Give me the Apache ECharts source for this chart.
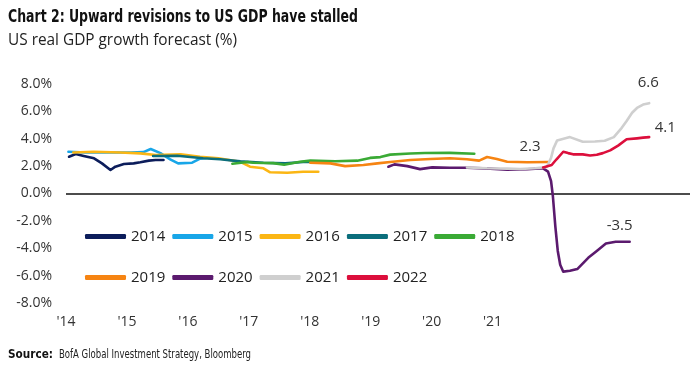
<!DOCTYPE html>
<html>
<head>
<meta charset="utf-8">
<script src="https://cdn.jsdelivr.net/npm/echarts@6/dist/echarts.min.js"></script>
<style>html,body{margin:0;padding:0;background:#fff}#c{width:700px;height:367px}</style>
</head>
<body>
<div id="c"></div>
<script>
// x = position on the year axis, y = forecast (%)
const s2014 = [[2014.05,2.69],[2014.16,2.88],[2014.29,2.74],[2014.46,2.57],[2014.59,2.2],[2014.73,1.72],[2014.81,1.96],[2014.95,2.15],[2015.11,2.2],[2015.22,2.28],[2015.36,2.4],[2015.47,2.45],[2015.60,2.45]];
const s2015 = [[2014.04,3.05],[2014.32,3.0],[2014.73,3.0],[2015.06,3.0],[2015.27,3.02],[2015.39,3.25],[2015.55,2.95],[2015.71,2.5],[2015.84,2.2],[2016.07,2.25],[2016.20,2.55],[2016.30,2.6]];
const s2016 = [[2014.12,3.0],[2014.45,3.05],[2014.89,3.0],[2015.22,2.93],[2015.47,2.81],[2015.88,2.86],[2016.20,2.69],[2016.50,2.57],[2016.86,2.32],[2017.02,1.96],[2017.24,1.84],[2017.35,1.55],[2017.63,1.52],[2017.89,1.59],[2018.14,1.59]];
const s2017 = [[2015.43,2.74],[2015.83,2.76],[2016.25,2.57],[2016.53,2.5],[2016.86,2.35],[2017.24,2.25],[2017.60,2.2],[2017.89,2.3],[2018.01,2.3]];
const s2018 = [[2016.73,2.17],[2016.98,2.3],[2017.07,2.25],[2017.40,2.22],[2017.58,2.1],[2017.84,2.32],[2018.01,2.4],[2018.42,2.36],[2018.78,2.4],[2018.99,2.6],[2019.16,2.66],[2019.32,2.84],[2019.65,2.92],[2019.89,2.96],[2020.30,2.97],[2020.70,2.9]];
const s2019 = [[2018.01,2.25],[2018.34,2.2],[2018.58,2.0],[2018.88,2.08],[2019.11,2.2],[2019.32,2.3],[2019.65,2.45],[2019.98,2.52],[2020.30,2.57],[2020.58,2.5],[2020.78,2.4],[2020.91,2.67],[2021.07,2.52],[2021.24,2.32],[2021.57,2.28],[2021.91,2.3]];
const s2020 = [[2019.29,1.96],[2019.39,2.13],[2019.60,2.0],[2019.81,1.78],[2020.01,1.91],[2020.30,1.88],[2020.58,1.88],[2020.96,1.82],[2021.24,1.74],[2021.57,1.77],[2021.83,1.84],[2021.91,1.6],[2021.96,0.9],[2021.99,-0.2],[2022.03,-2.4],[2022.07,-4.2],[2022.11,-5.2],[2022.16,-5.71],[2022.27,-5.65],[2022.39,-5.52],[2022.57,-4.7],[2022.71,-4.2],[2022.86,-3.65],[2023.02,-3.52],[2023.25,-3.52]];
const s2021 = [[2020.58,1.9],[2020.91,1.84],[2021.24,1.82],[2021.45,1.79],[2021.70,1.85],[2021.89,1.94],[2021.96,2.6],[2022.00,3.3],[2022.06,3.88],[2022.27,4.12],[2022.48,3.78],[2022.68,3.8],[2022.84,3.85],[2022.99,4.12],[2023.12,4.8],[2023.20,5.3],[2023.29,5.9],[2023.37,6.25],[2023.47,6.5],[2023.57,6.6]];
const s2022 = [[2021.83,1.9],[2021.97,2.08],[2022.05,2.5],[2022.16,3.05],[2022.24,2.95],[2022.32,2.86],[2022.48,2.86],[2022.60,2.78],[2022.71,2.83],[2022.81,2.95],[2022.93,3.15],[2023.06,3.5],[2023.20,3.96],[2023.37,4.03],[2023.47,4.08],[2023.57,4.12]];

const seriesNames = ['2014','2015','2016','2017','2018','2019','2020','2021','2022'];
const seriesData = [s2014,s2015,s2016,s2017,s2018,s2019,s2020,s2021,s2022];
const colors = ['#0c1d5b','#18a6e8','#fbb614','#0b6e7c','#3aaa35','#f68412','#5b1a6e','#cfcfcf','#dc0f3c'];
const yTicks = [-8,-6,-4,-2,0,2,4,6,8];
const xTickLabels = ["'14","'15","'16","'17","'18","'19","'20","'21"];
// end-value annotations: [series index, text, offset]
const notes = [[5,'2.3',[-18,-15]],[7,'6.6',[-1,-20]],[8,'4.1',[16,-9]],[6,'-3.5',[-10,-16]]];

const FONT = "'Open Sans', sans-serif";
const NARROW = "'Liberation Sans Narrow', 'DejaVu Sans Condensed', sans-serif";

const mctx = document.createElement('canvas').getContext('2d');
function fitScale(text, font, width){ mctx.font = font; return width / mctx.measureText(text).width; }

const TITLE = 'Chart 2: Upward revisions to US GDP have stalled';
const SUB = 'US real GDP growth forecast (%)';
const SRC_B = 'Source:';
const SRC = 'BofA Global Investment Strategy, Bloomberg';
const fTitle = "bold 18px "+NARROW, fSub = "16px "+FONT, fSrcB = "bold 12px "+NARROW, fSrc = "12px "+NARROW;

const series = seriesNames.map((n,i)=>{
  const s = {
    name:n, type:'line', data:seriesData[i], showSymbol:false, symbol:'none',
    lineStyle:{color:colors[i], width:2.6, cap:'round', join:'round'},
    itemStyle:{color:colors[i]}, z:2+i, animation:false
  };
  const ns = notes.filter(t=>t[0]===i);
  if (ns.length) {
    const last = seriesData[i][seriesData[i].length-1];
    s.markPoint = {
      symbol:'circle', symbolSize:1, itemStyle:{color:'rgba(0,0,0,0)'}, animation:false, silent:true,
      data: ns.map(t=>({coord:last, label:{show:true, position:'inside', offset:t[2], formatter:t[1], color:'#333', fontSize:15, fontFamily:FONT}}))
    };
  }
  return s;
});
series[0].markLine = {
  symbol:'none', silent:true, animation:false, label:{show:false},
  lineStyle:{color:'#111', width:1.5, type:'solid'},
  data:[{yAxis:0}]
};

const legendText = {fontSize:15, color:'#222', fontFamily:FONT};
const chart = echarts.init(document.getElementById('c'), null, {renderer:'canvas'});
chart.setOption({
  animation:false,
  color:colors,
  grid:{left:66, right:10, top:84, bottom:64},
  xAxis:{type:'value', min:2014, max:2024.24, interval:1,
    axisLine:{show:false}, axisTick:{show:false}, splitLine:{show:false},
    axisLabel:{margin:12, color:'#333', fontSize:14, fontFamily:FONT,
      formatter:v=>{const k=Math.round(v)-2014; return (k>=0 && k<xTickLabels.length)? xTickLabels[k] : '';}}},
  yAxis:{type:'value', min:yTicks[0], max:yTicks[yTicks.length-1], interval:2,
    axisLine:{show:false}, axisTick:{show:false}, splitLine:{show:false},
    axisLabel:{margin:14, color:'#333', fontSize:14, fontFamily:FONT, formatter:v=>v.toFixed(1)+'%'}},
  legend:[
    {data:seriesNames.slice(0,5), left:85, top:229, padding:0, itemWidth:41, itemHeight:5, itemGap:7, icon:'roundRect', textStyle:legendText},
    {data:seriesNames.slice(5), left:85, top:270, padding:0, itemWidth:41, itemHeight:5, itemGap:7, icon:'roundRect', textStyle:legendText}
  ],
  graphic:[
    {type:'text', x:8, y:17, scaleX:fitScale(TITLE,fTitle,350), style:{text:TITLE, font:fTitle, fill:'#111', verticalAlign:'middle'}},
    {type:'text', x:8, y:40, scaleX:fitScale(SUB,fSub,229), style:{text:SUB, font:fSub, fill:'#222', verticalAlign:'middle'}},
    {type:'text', x:8, y:355, scaleX:fitScale(SRC_B,fSrcB,45), style:{text:SRC_B, font:fSrcB, fill:'#111', verticalAlign:'middle'}},
    {type:'text', x:59, y:355, scaleX:fitScale(SRC,fSrc,192), style:{text:SRC, font:fSrc, fill:'#222', verticalAlign:'middle'}}
  ],
  series:series
});
</script>
</body>
</html>
